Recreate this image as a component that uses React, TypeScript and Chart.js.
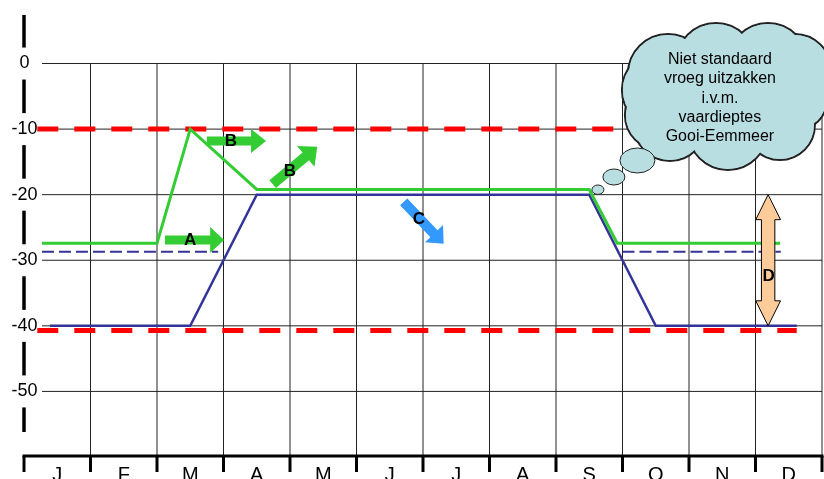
import React, { useEffect, useRef } from "react";
import { Chart, registerables } from "chart.js";

Chart.register(...registerables);

// Axis labels
const monthLabels = ["J", "F", "M", "A", "M", "J", "J", "A", "S", "O", "N", "D"];
const depthTicks = [0, -10, -20, -30, -40, -50];

// Upper target level (green)
const greenMonths = [0.27, 2.0, 2.5, 3.5, 8.5, 8.92, 11.37];
const greenDepths = [-27.4, -27.4, -10, -19.2, -19.2, -27.4, -27.4];

// Lower target level (blue)
const blueMonths = [0.39, 2.5, 3.5, 8.5, 9.5, 11.62];
const blueDepths = [-40, -40, -20, -20, -40, -40];

// Standard winter level (blue, dashed)
const springDashMonths = [0.27, 2.92];
const autumnDashMonths = [9.0, 11.38];
const dashedDepth = -28.7;

// Limits (red, dashed)
const limitMonths = [0.2, 11.62];
const upperLimit = -10;
const lowerLimit = -40.7;

const cloudLines = ["Niet standaard", "vroeg uitzakken", "i.v.m.", "vaardieptes", "Gooi-Eemmeer"];

const FONT = '"Liberation Sans", Arial, sans-serif';
const GREEN = "#33cc33";
const BLUE = "#333399";
const LIGHT_BLUE = "#3399ff";
const RED = "#ff0000";

type Pt = [number, number];
type BlockArrow = {
  label: string;
  from: Pt;
  to: Pt;
  labelAt: Pt;
  color: string;
  shaft: number;
  head: number;
  headLen: number;
};

// Annotation arrows, placed in (month, depth) coordinates
const blockArrows: BlockArrow[] = [
  { label: "A", from: [2.12, -26.9], to: [3.01, -26.9], labelAt: [2.5, -26.9], color: GREEN, shaft: 9, head: 26, headLen: 14 },
  { label: "B", from: [2.75, -11.8], to: [3.64, -11.8], labelAt: [3.11, -11.8], color: GREEN, shaft: 9, head: 24, headLen: 15 },
  { label: "B", from: [3.74, -18.4], to: [4.41, -12.7], labelAt: [4.0, -16.3], color: GREEN, shaft: 10, head: 27, headLen: 15 },
  { label: "C", from: [5.71, -21.1], to: [6.31, -27.5], labelAt: [5.94, -23.7], color: LIGHT_BLUE, shaft: 10, head: 25, headLen: 14 },
];
const rangeArrow = { label: "D", month: 11.19, top: -20, bottom: -40, labelDepth: -32.5 };

// Thought cloud anchor in (month, depth)
const cloudAnchor: Pt = [10.54, -4.8];

const toXY = (xs: number[], ys: number[]) => xs.map((x, i) => ({ x, y: ys[i] }));
const flat = (xs: number[], y: number) => xs.map((x) => ({ x, y }));

function blockArrowPath(ctx: CanvasRenderingContext2D, tx: number, ty: number, px: number, py: number, shaft: number, head: number, headLen: number) {
  const len = Math.hypot(px - tx, py - ty);
  const ux = (px - tx) / len;
  const uy = (py - ty) / len;
  const nx = -uy;
  const ny = ux;
  const hx = px - ux * headLen;
  const hy = py - uy * headLen;
  const s = shaft / 2;
  const h = head / 2;
  ctx.beginPath();
  ctx.moveTo(tx + nx * s, ty + ny * s);
  ctx.lineTo(hx + nx * s, hy + ny * s);
  ctx.lineTo(hx + nx * h, hy + ny * h);
  ctx.lineTo(px, py);
  ctx.lineTo(hx - nx * h, hy - ny * h);
  ctx.lineTo(hx - nx * s, hy - ny * s);
  ctx.lineTo(tx - nx * s, ty - ny * s);
  ctx.closePath();
}

const gridPlugin = {
  id: "depthGrid",
  beforeDatasetsDraw(chart: any) {
    const { ctx } = chart;
    const xs = chart.scales.x;
    const ys = chart.scales.y;
    const x0 = xs.getPixelForValue(0);
    const x12 = xs.getPixelForValue(12);
    ctx.save();
    ctx.strokeStyle = "#222";
    ctx.lineWidth = 1;
    for (const v of depthTicks) {
      const py = ys.getPixelForValue(v);
      ctx.beginPath();
      ctx.moveTo(x0 + 18, py);
      ctx.lineTo(x12, py);
      ctx.stroke();
    }
    const top = ys.getPixelForValue(0);
    const bottom = ys.getPixelForValue(-60);
    for (let m = 1; m <= 12; m++) {
      const px = xs.getPixelForValue(m);
      ctx.beginPath();
      ctx.moveTo(px, top);
      ctx.lineTo(px, bottom);
      ctx.stroke();
    }
    ctx.restore();
  },
};

const annotationPlugin = {
  id: "annotations",
  afterDatasetsDraw(chart: any) {
    const { ctx, chartArea } = chart;
    const xs = chart.scales.x;
    const ys = chart.scales.y;
    const X = (m: number) => xs.getPixelForValue(m);
    const Y = (d: number) => ys.getPixelForValue(d);
    ctx.save();

    // Y axis: heavy line broken around the labels
    const ax = X(0);
    const gaps = depthTicks.map((v) => Y(v));
    const lineBottom = chartArea.bottom - 25;
    ctx.strokeStyle = "#000";
    ctx.lineWidth = 3.5;
    let start = chartArea.top;
    for (const g of gaps) {
      ctx.beginPath();
      ctx.moveTo(ax, start);
      ctx.lineTo(ax, g - 16);
      ctx.stroke();
      start = g + 16;
    }
    ctx.beginPath();
    ctx.moveTo(ax, start);
    ctx.lineTo(ax, lineBottom);
    ctx.stroke();

    ctx.fillStyle = "#000";
    ctx.font = `18px ${FONT}`;
    ctx.textAlign = "center";
    ctx.textBaseline = "middle";
    for (const v of depthTicks) {
      ctx.fillText(String(v), ax + 0.5, Y(v));
    }

    // X axis with month ticks
    const axisY = Y(-60) - 1;
    ctx.lineWidth = 3;
    ctx.beginPath();
    ctx.moveTo(X(0) - 1.5, axisY);
    ctx.lineTo(X(12) + 1.5, axisY);
    ctx.stroke();
    for (let m = 0; m <= 12; m++) {
      ctx.beginPath();
      ctx.moveTo(X(m), axisY);
      ctx.lineTo(X(m), axisY + 16);
      ctx.stroke();
    }
    ctx.font = `20px ${FONT}`;
    ctx.textBaseline = "alphabetic";
    monthLabels.forEach((lab, i) => {
      ctx.fillText(lab, X(i + 0.5), axisY + 25);
    });

    // Block arrows with letters
    for (const a of blockArrows) {
      ctx.fillStyle = a.color;
      blockArrowPath(ctx, X(a.from[0]), Y(a.from[1]), X(a.to[0]), Y(a.to[1]), a.shaft, a.head, a.headLen);
      ctx.fill();
    }
    ctx.fillStyle = "#000";
    ctx.font = `bold 17px ${FONT}`;
    ctx.textBaseline = "middle";
    for (const a of blockArrows) {
      ctx.fillText(a.label, X(a.labelAt[0]), Y(a.labelAt[1]) + 0.5);
    }

    // Double-headed range arrow
    {
      const cx = X(rangeArrow.month);
      const yT = Y(rangeArrow.top);
      const yB = Y(rangeArrow.bottom);
      const s = 6.7;
      const h = 12.4;
      const hl = 25;
      ctx.beginPath();
      ctx.moveTo(cx, yT);
      ctx.lineTo(cx + h, yT + hl);
      ctx.lineTo(cx + s, yT + hl);
      ctx.lineTo(cx + s, yB - hl);
      ctx.lineTo(cx + h, yB - hl);
      ctx.lineTo(cx, yB);
      ctx.lineTo(cx - h, yB - hl);
      ctx.lineTo(cx - s, yB - hl);
      ctx.lineTo(cx - s, yT + hl);
      ctx.lineTo(cx - h, yT + hl);
      ctx.closePath();
      ctx.fillStyle = "#ffcc99";
      ctx.fill();
      ctx.strokeStyle = "#000";
      ctx.lineWidth = 1;
      ctx.stroke();
      ctx.fillStyle = "#000";
      ctx.fillText(rangeArrow.label, cx + 0.5, Y(rangeArrow.labelDepth));
    }

    // Thought cloud: union of overlapping lobes, outlined on the outside only
    {
      const cx = X(cloudAnchor[0]);
      const cy = Y(cloudAnchor[1]);
      const fill = "#b9dee2";
      const edge = "#222";
      const lobes: [number, number, number][] = [
        [-57, -21, 40],
        [-9, -32, 40],
        [43, -32, 40],
        [70, -25, 36],
        [72, 5, 30],
        [55, 30, 35],
        [3, 35, 40],
        [-55, 30, 36],
        [-65, 20, 35],
        [-65, -5, 38],
      ];
      ctx.lineWidth = 2;
      ctx.strokeStyle = edge;
      ctx.fillStyle = fill;
      for (const [dx, dy, r] of lobes) {
        ctx.beginPath();
        ctx.arc(cx + dx, cy + dy, r, 0, Math.PI * 2);
        ctx.fill();
        ctx.stroke();
      }
      for (const [dx, dy, r] of lobes) {
        ctx.beginPath();
        ctx.arc(cx + dx, cy + dy, r - 1, 0, Math.PI * 2);
        ctx.fill();
      }
      ctx.beginPath();
      ctx.ellipse(cx, cy, 80, 45, 0, 0, Math.PI * 2);
      ctx.fill();

      // trailing bubbles
      const bubbles: [number, number, number, number][] = [
        [-87.5, 65.5, 17.5, 12.5],
        [-111, 82, 11, 8],
        [-127, 94.7, 6, 4.7],
      ];
      ctx.lineWidth = 1;
      for (const [dx, dy, rx, ry] of bubbles) {
        ctx.beginPath();
        ctx.ellipse(cx + dx, cy + dy, rx, ry, 0, 0, Math.PI * 2);
        ctx.fill();
        ctx.stroke();
      }

      ctx.fillStyle = "#000";
      ctx.font = `16px ${FONT}`;
      ctx.textAlign = "center";
      ctx.textBaseline = "middle";
      cloudLines.forEach((t, i) => {
        ctx.fillText(t, cx - 5, cy - 35.5 + i * 19.3);
      });
    }

    ctx.restore();
  },
};

export default function App() {
  const canvasRef = useRef<HTMLCanvasElement | null>(null);

  useEffect(() => {
    const canvas = canvasRef.current;
    if (!canvas) return;
    const lineBase = { pointRadius: 0, tension: 0, fill: false, borderJoinStyle: "miter" as const };
    const chart = new Chart(canvas, {
      type: "line",
      data: {
        datasets: [
          { ...lineBase, data: toXY(greenMonths, greenDepths), borderColor: GREEN, borderWidth: 3 },
          { ...lineBase, data: toXY(blueMonths, blueDepths), borderColor: BLUE, borderWidth: 2.5 },
          { ...lineBase, data: flat(springDashMonths, dashedDepth), borderColor: BLUE, borderWidth: 2, borderDash: [12, 5] },
          { ...lineBase, data: flat(autumnDashMonths, dashedDepth), borderColor: BLUE, borderWidth: 2, borderDash: [12, 5] },
          { ...lineBase, data: flat(limitMonths, upperLimit), borderColor: RED, borderWidth: 5, borderDash: [21, 16] },
          { ...lineBase, data: flat(limitMonths, lowerLimit), borderColor: RED, borderWidth: 5, borderDash: [21, 16] },
        ],
      },
      options: {
        responsive: false,
        animation: false,
        events: [],
        layout: { padding: { left: 24, right: 2, top: 15, bottom: 22 } },
        scales: {
          x: { type: "linear", min: 0, max: 12, display: false },
          y: { type: "linear", min: -60, max: 7.4, display: false },
        },
        plugins: { legend: { display: false }, tooltip: { enabled: false } },
      },
      plugins: [gridPlugin, annotationPlugin],
    });
    return () => chart.destroy();
  }, []);

  return (
    <div style={{ position: "fixed", left: 0, top: 0, width: 824, height: 479, background: "#fff" }}>
      <canvas ref={canvasRef} width={824} height={479} style={{ width: 824, height: 479, display: "block" }} />
    </div>
  );
}
